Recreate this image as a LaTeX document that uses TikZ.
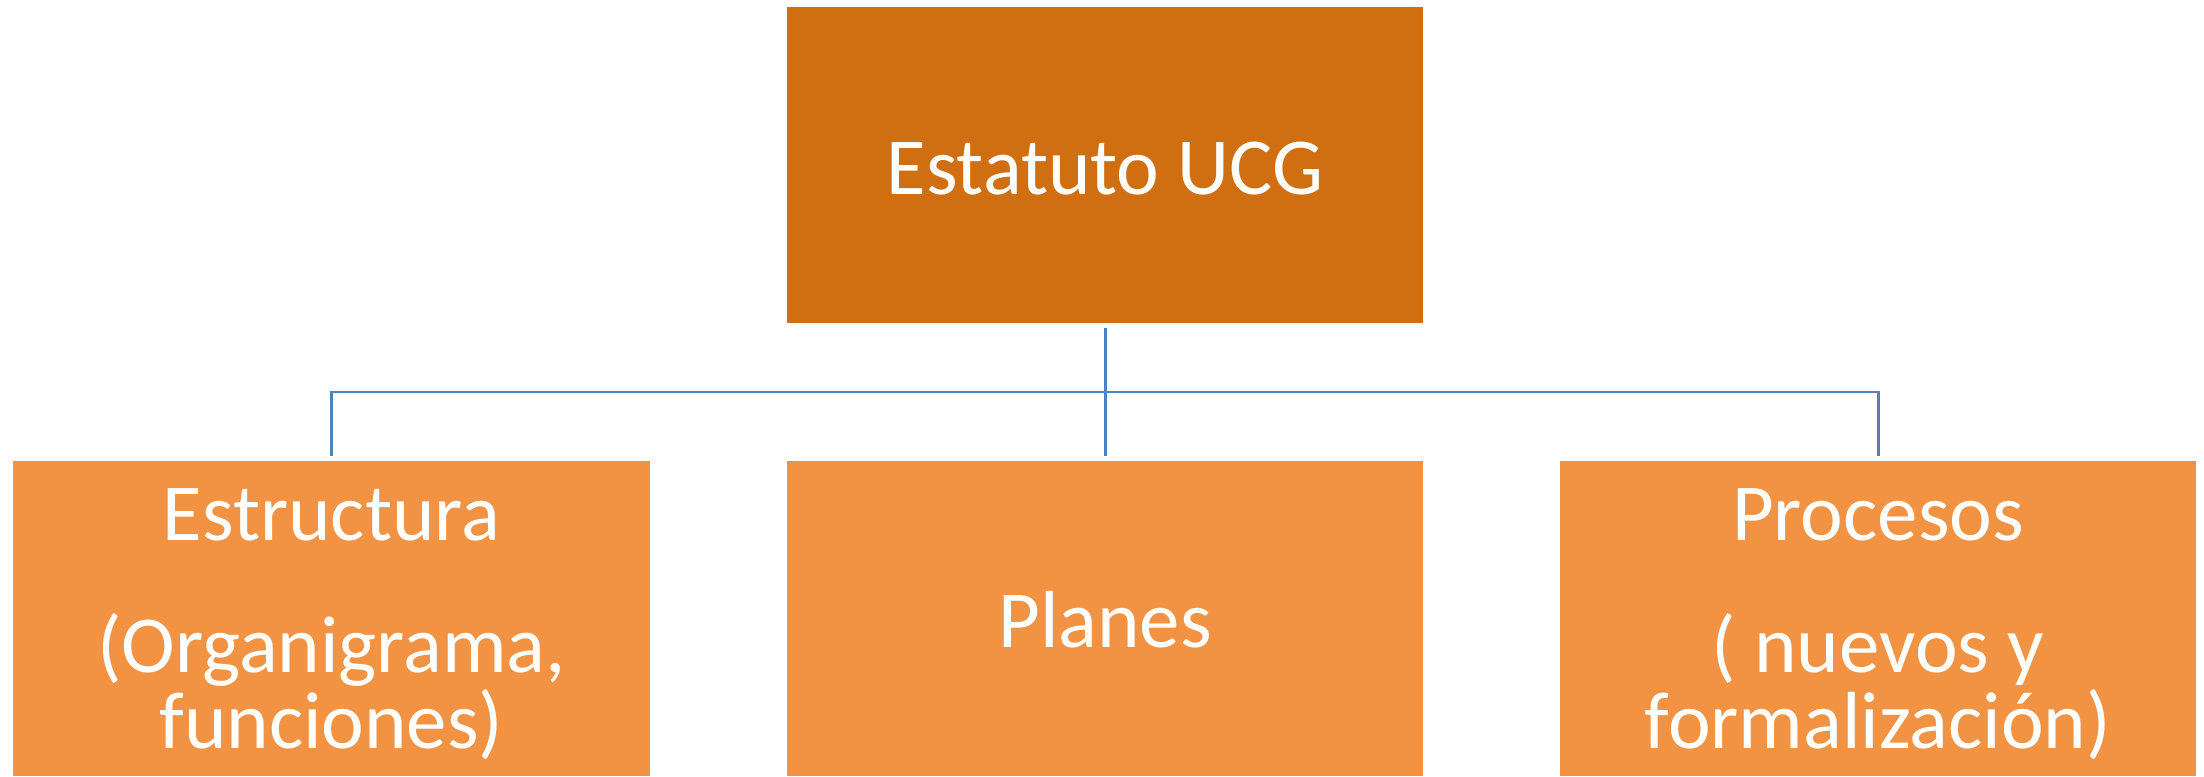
\documentclass[tikz,border=0pt]{standalone}
\usepackage{fontspec}
\setmainfont{Carlito}
\usetikzlibrary{positioning,calc}
\definecolor{darkorange}{RGB}{208,111,18}
\definecolor{lightorange}{RGB}{242,147,67}
\definecolor{linkblue}{RGB}{79,129,189}

\begin{document}
\begin{tikzpicture}[x=0.01cm,y=-0.01cm] % 1 unit = 1 px of the slide, y going down

\tikzset{
  box/.style={minimum width=6.36cm, minimum height=3.16cm, inner sep=0pt,
    text=white, align=center, font=\fontsize{23}{21.6}\selectfont, text depth=0pt},
  oneline/.style={text height=0.58cm},
  link/.style={draw=linkblue, line width=0.85pt, shorten <=1.2pt, shorten >=1.2pt}
}

\useasboundingbox (0,0) rectangle (2204,776);

% Top box
\node[box, oneline, fill=darkorange] (ucg) at (1105,165) {Estatuto UCG};

% Bottom row (cut off by the lower edge)
\def\yrow{618.5}
\node[box, fill=lightorange, minimum height=3.15cm] (estr) at (331.5,\yrow)
  {Estructura\\[16pt](Organigrama,\\funciones)};
\node[box, oneline, fill=lightorange, minimum height=3.15cm] (planes) at (1105,\yrow) {Planes};
\node[box, fill=lightorange, minimum height=3.15cm] (proc) at (1878,\yrow)
  {Procesos\\[16pt]( nuevos y\\formalización)};

% Connectors
\coordinate (bus) at (1105,392);
\foreach \n in {estr,planes,proc} {
  \draw[link] (ucg.south) -- (bus) -| (\n.north);
}
\end{tikzpicture}
\end{document}
